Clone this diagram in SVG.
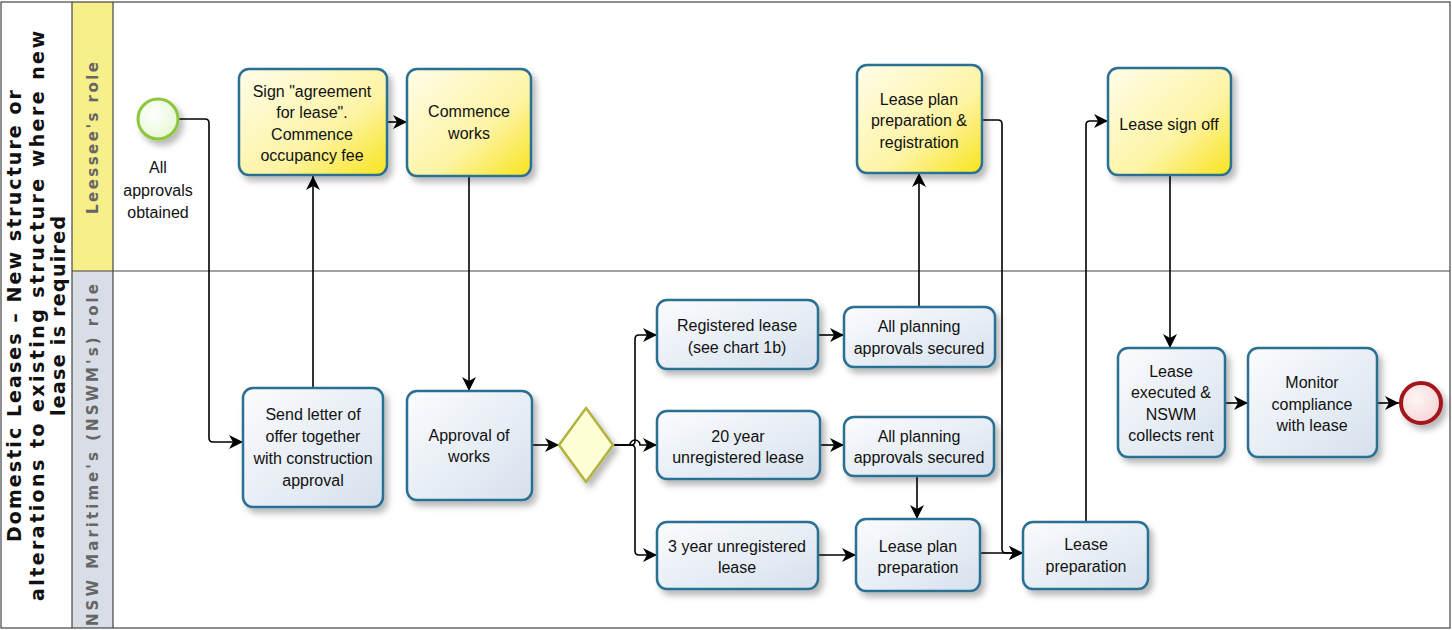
<svg xmlns="http://www.w3.org/2000/svg" width="1452" height="630" viewBox="0 0 1452 630">
<style>
.t{font-family:"Liberation Sans",Arial,sans-serif;font-size:16px;fill:#111;text-anchor:middle}
.y{fill:url(#gy);stroke:#2b6f92;stroke-width:2.5}
.b{fill:url(#gb);stroke:#2b6f92;stroke-width:2.5}
.c{fill:none;stroke:#000;stroke-width:1.6;marker-end:url(#ar)}
.ln{fill:none;stroke:#444;stroke-width:1.2}
.ttl{font-family:"DejaVu Sans",sans-serif;font-weight:bold;font-size:19px;fill:#111;text-anchor:middle}
.lane{font-family:"DejaVu Sans",sans-serif;font-weight:bold;font-size:15px;fill:#666;text-anchor:middle}
</style>
<defs>
<linearGradient id="gy" x1="0" y1="0" x2="1" y2="1">
<stop offset="0" stop-color="#fffdea"/><stop offset="0.6" stop-color="#fdf4a4"/><stop offset="1" stop-color="#f8e31c"/>
</linearGradient>
<linearGradient id="gb" x1="0" y1="0" x2="1" y2="1">
<stop offset="0" stop-color="#fbfcfe"/><stop offset="1" stop-color="#d6e1ed"/>
</linearGradient>
<radialGradient id="gs" cx="0.4" cy="0.4" r="0.7"><stop offset="0" stop-color="#ffffff"/><stop offset="1" stop-color="#e4f6cf"/></radialGradient>
<radialGradient id="ge" cx="0.4" cy="0.4" r="0.7"><stop offset="0" stop-color="#fff5f5"/><stop offset="1" stop-color="#f6d2d2"/></radialGradient>
<filter id="sh" x="-20%" y="-20%" width="150%" height="150%"><feDropShadow dx="4" dy="5" stdDeviation="3" flood-color="#000" flood-opacity="0.28"/></filter>
<marker id="ar" markerUnits="userSpaceOnUse" markerWidth="14" markerHeight="14" refX="14" refY="7" orient="auto"><path d="M0,0 L14,7 L0,14 L4,7 z" fill="#000"/></marker>
</defs>
<rect x="0" y="0" width="1452" height="630" fill="#fff"/>
<g id="pool">
<rect x="72" y="2" width="41" height="269" fill="#f6ef8a"/>
<rect x="72" y="271" width="41" height="357" fill="#d9dee6"/>
<rect x="1" y="2" width="1449" height="626" class="ln"/>
<line x1="72" y1="2" x2="72" y2="628" class="ln"/>
<line x1="113" y1="2" x2="113" y2="628" class="ln"/>
<line x1="72" y1="271" x2="1450" y2="271" class="ln"/>
<g transform="translate(0,316) rotate(-90)">
<text class="ttl" x="0" y="21" textLength="452" lengthAdjust="spacing">Domestic Leases – New structure or</text>
<text class="ttl" x="0" y="44" textLength="570" lengthAdjust="spacing">alterations to existing  structure where new</text>
<text class="ttl" x="0" y="65" textLength="200" lengthAdjust="spacing">lease is required</text>
</g>
<text class="lane" transform="translate(98,138) rotate(-90)" x="0" y="0" textLength="152" lengthAdjust="spacing">Leessee's role</text>
<text class="lane" transform="translate(98,455) rotate(-90)" x="0" y="0" textLength="342" lengthAdjust="spacing">NSW Maritime's (NSWM's) role</text>
</g>
<g id="connectors">
<path class="c" d="M179,119 H205 Q209,119 209,123 V438 Q209,442 213,442 H243"/>
<path class="c" d="M313,388 V176"/>
<path class="c" d="M387,122 H407"/>
<path class="c" d="M469,176 V391"/>
<path class="c" d="M532,445 H559"/>
<path class="c" d="M613,445 H631 Q635,445 635,441 V339 Q635,335 639,335 H657"/>
<path class="c" d="M613,445 H631 Q635,445 635,449 V551 Q635,555 639,555 H657"/>
<path class="c" d="M613,445 H630 A5,5 0 0 1 640,445 H657"/>
<path class="c" d="M818,335 H844"/>
<path class="c" d="M820,445 H844"/>
<path class="c" d="M818,555 H856"/>
<path class="c" d="M919,307 V173"/>
<path class="c" d="M917,476 V519"/>
<path class="c" d="M982,120 H998 Q1002,120 1002,124 V549 Q1002,553 1006,553 H1023"/>
<path class="c" d="M980,553 H1023"/>
<path class="c" d="M1086,522 V125 Q1086,121 1090,121 H1108"/>
<path class="c" d="M1170,175 V348"/>
<path class="c" d="M1225,403 H1248"/>
<path class="c" d="M1377,403 H1399"/>
</g>
<g id="start">
<circle cx="158" cy="119" r="20" fill="url(#gs)" stroke="#8cc63e" stroke-width="3" filter="url(#sh)"/>
<text class="t"><tspan x="158" y="173">All</tspan><tspan x="158" y="196">approvals</tspan><tspan x="158" y="218">obtained</tspan></text>
</g>
<g id="sign">
<rect class="y" x="239" y="69" width="148" height="106" rx="10" filter="url(#sh)"/>
<text class="t"><tspan x="312" y="97">Sign "agreement</tspan><tspan x="312" y="118">for lease".</tspan><tspan x="312" y="140">Commence</tspan><tspan x="312" y="161">occupancy fee</tspan></text>
</g>
<g id="commence">
<rect class="y" x="407" y="69" width="124" height="107" rx="10" filter="url(#sh)"/>
<text class="t"><tspan x="469" y="117">Commence</tspan><tspan x="469" y="139">works</tspan></text>
</g>
<g id="leaseplanreg">
<rect class="y" x="857" y="65" width="125" height="108" rx="10" filter="url(#sh)"/>
<text class="t"><tspan x="919" y="105">Lease plan</tspan><tspan x="919" y="126">preparation &amp;</tspan><tspan x="919" y="148">registration</tspan></text>
</g>
<g id="signoff">
<rect class="y" x="1108" y="68" width="123" height="107" rx="10" filter="url(#sh)"/>
<text class="t" x="1169" y="130">Lease sign off</text>
</g>
<g id="sendletter">
<rect class="b" x="243" y="388" width="140" height="119" rx="10" filter="url(#sh)"/>
<text class="t"><tspan x="313" y="420">Send letter of</tspan><tspan x="313" y="442">offer together</tspan><tspan x="313" y="464">with construction</tspan><tspan x="313" y="486">approval</tspan></text>
</g>
<g id="approval">
<rect class="b" x="407" y="391" width="125" height="109" rx="10" filter="url(#sh)"/>
<text class="t"><tspan x="469" y="441">Approval of</tspan><tspan x="469" y="462">works</tspan></text>
</g>
<g id="gateway">
<polygon points="586,408 613,445 586,482 559,445" fill="#fefed6" stroke="#b3b23c" stroke-width="2.5" filter="url(#sh)"/>
</g>
<g id="registered">
<rect class="b" x="657" y="300" width="161" height="69" rx="10" filter="url(#sh)"/>
<text class="t"><tspan x="737" y="331">Registered lease</tspan><tspan x="737" y="353">(see chart 1b)</tspan></text>
</g>
<g id="twenty">
<rect class="b" x="657" y="411" width="163" height="68" rx="10" filter="url(#sh)"/>
<text class="t"><tspan x="738" y="442">20 year</tspan><tspan x="738" y="463">unregistered lease</tspan></text>
</g>
<g id="three">
<rect class="b" x="657" y="522" width="161" height="67" rx="10" filter="url(#sh)"/>
<text class="t"><tspan x="737" y="552">3 year unregistered</tspan><tspan x="737" y="573">lease</tspan></text>
</g>
<g id="planning1">
<rect class="b" x="844" y="307" width="151" height="60" rx="10" filter="url(#sh)"/>
<text class="t"><tspan x="919" y="332">All planning</tspan><tspan x="919" y="354">approvals secured</tspan></text>
</g>
<g id="planning2">
<rect class="b" x="844" y="417" width="150" height="59" rx="10" filter="url(#sh)"/>
<text class="t"><tspan x="919" y="442">All planning</tspan><tspan x="919" y="463">approvals secured</tspan></text>
</g>
<g id="leaseplanprep">
<rect class="b" x="856" y="519" width="124" height="72" rx="10" filter="url(#sh)"/>
<text class="t"><tspan x="918" y="552">Lease plan</tspan><tspan x="918" y="573">preparation</tspan></text>
</g>
<g id="leaseprep">
<rect class="b" x="1023" y="522" width="125" height="67" rx="10" filter="url(#sh)"/>
<text class="t"><tspan x="1086" y="550">Lease</tspan><tspan x="1086" y="572">preparation</tspan></text>
</g>
<g id="executed">
<rect class="b" x="1118" y="348" width="107" height="109" rx="10" filter="url(#sh)"/>
<text class="t"><tspan x="1171" y="377">Lease</tspan><tspan x="1171" y="398">executed &amp;</tspan><tspan x="1171" y="420">NSWM</tspan><tspan x="1171" y="441">collects rent</tspan></text>
</g>
<g id="monitor">
<rect class="b" x="1248" y="348" width="129" height="109" rx="10" filter="url(#sh)"/>
<text class="t"><tspan x="1312" y="388">Monitor</tspan><tspan x="1312" y="410">compliance</tspan><tspan x="1312" y="431">with lease</tspan></text>
</g>
<g id="end">
<circle cx="1421" cy="403" r="20" fill="url(#ge)" stroke="#a3161f" stroke-width="4" filter="url(#sh)"/>
</g>
</svg>
